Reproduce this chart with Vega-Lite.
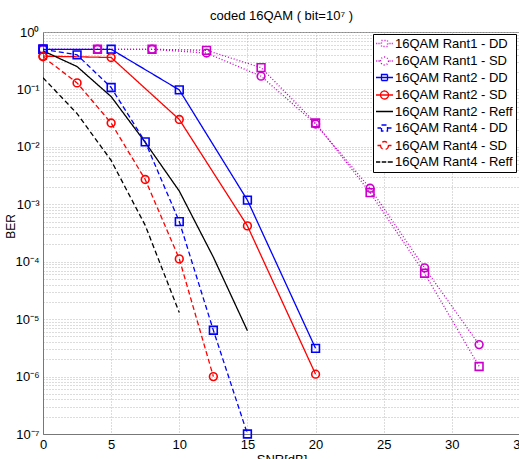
{
  "$schema": "https://vega.github.io/schema/vega-lite/v6.json",
  "width": 477,
  "height": 402,
  "autosize": {"type": "none"},
  "padding": {"left": 43, "top": 32, "right": 0, "bottom": 25},
  "config": {
    "font": "Liberation Sans",
    "view": {"stroke": "#8a8a8a", "strokeWidth": 1},
    "axis": {"labelFont": "Liberation Sans", "titleFont": "Liberation Sans", "labelFontSize": 13, "titleFontSize": 13, "titleFontWeight": "normal", "labelColor": "#000", "titleColor": "#000", "domainColor": "#777", "gridColor": "#b8b8b8", "gridDash": [1, 2], "gridWidth": 1, "ticks": false}
  },
  "title": {"text": "coded 16QAM ( bit=10⁷ )", "fontSize": 13, "fontWeight": "normal", "font": "Liberation Sans", "color": "#000", "anchor": "middle", "offset": 3},
  "data": {"values": [
    {"series": "16QAM Rant1 - DD", "snr": 0, "ber": 0.5},
    {"series": "16QAM Rant1 - DD", "snr": 4, "ber": 0.5},
    {"series": "16QAM Rant1 - DD", "snr": 8, "ber": 0.5},
    {"series": "16QAM Rant1 - DD", "snr": 12, "ber": 0.48},
    {"series": "16QAM Rant1 - DD", "snr": 16, "ber": 0.24},
    {"series": "16QAM Rant1 - DD", "snr": 20, "ber": 0.026},
    {"series": "16QAM Rant1 - DD", "snr": 24, "ber": 0.0016},
    {"series": "16QAM Rant1 - DD", "snr": 28, "ber": 6.3e-5},
    {"series": "16QAM Rant1 - DD", "snr": 32, "ber": 1.5e-6},
    {"series": "16QAM Rant1 - SD", "snr": 0, "ber": 0.5},
    {"series": "16QAM Rant1 - SD", "snr": 4, "ber": 0.5},
    {"series": "16QAM Rant1 - SD", "snr": 8, "ber": 0.5},
    {"series": "16QAM Rant1 - SD", "snr": 12, "ber": 0.43},
    {"series": "16QAM Rant1 - SD", "snr": 16, "ber": 0.17},
    {"series": "16QAM Rant1 - SD", "snr": 20, "ber": 0.025},
    {"series": "16QAM Rant1 - SD", "snr": 24, "ber": 0.0019},
    {"series": "16QAM Rant1 - SD", "snr": 28, "ber": 7.8e-5},
    {"series": "16QAM Rant1 - SD", "snr": 32, "ber": 3.6e-6},
    {"series": "16QAM Rant2 - DD", "snr": 0, "ber": 0.5},
    {"series": "16QAM Rant2 - DD", "snr": 5, "ber": 0.5},
    {"series": "16QAM Rant2 - DD", "snr": 10, "ber": 0.098},
    {"series": "16QAM Rant2 - DD", "snr": 15, "ber": 0.00118},
    {"series": "16QAM Rant2 - DD", "snr": 20, "ber": 3.1e-6},
    {"series": "16QAM Rant2 - SD", "snr": 0, "ber": 0.38},
    {"series": "16QAM Rant2 - SD", "snr": 5, "ber": 0.36},
    {"series": "16QAM Rant2 - SD", "snr": 10, "ber": 0.03},
    {"series": "16QAM Rant2 - SD", "snr": 15, "ber": 0.00042},
    {"series": "16QAM Rant2 - SD", "snr": 20, "ber": 1.1e-6},
    {"series": "16QAM Rant2 - Reff", "snr": 0, "ber": 0.47},
    {"series": "16QAM Rant2 - Reff", "snr": 2.5, "ber": 0.25},
    {"series": "16QAM Rant2 - Reff", "snr": 5, "ber": 0.075},
    {"series": "16QAM Rant2 - Reff", "snr": 7.5, "ber": 0.012},
    {"series": "16QAM Rant2 - Reff", "snr": 10, "ber": 0.0017},
    {"series": "16QAM Rant2 - Reff", "snr": 12.5, "ber": 0.00012},
    {"series": "16QAM Rant2 - Reff", "snr": 15, "ber": 6.3e-6},
    {"series": "16QAM Rant4 - DD", "snr": 0, "ber": 0.5},
    {"series": "16QAM Rant4 - DD", "snr": 2.5, "ber": 0.4},
    {"series": "16QAM Rant4 - DD", "snr": 5, "ber": 0.108},
    {"series": "16QAM Rant4 - DD", "snr": 7.5, "ber": 0.0122},
    {"series": "16QAM Rant4 - DD", "snr": 10, "ber": 0.0005},
    {"series": "16QAM Rant4 - DD", "snr": 12.5, "ber": 6.4e-6},
    {"series": "16QAM Rant4 - DD", "snr": 15, "ber": 1e-7},
    {"series": "16QAM Rant4 - SD", "snr": 0, "ber": 0.37},
    {"series": "16QAM Rant4 - SD", "snr": 2.5, "ber": 0.13},
    {"series": "16QAM Rant4 - SD", "snr": 5, "ber": 0.026},
    {"series": "16QAM Rant4 - SD", "snr": 7.5, "ber": 0.0027},
    {"series": "16QAM Rant4 - SD", "snr": 10, "ber": 0.000112},
    {"series": "16QAM Rant4 - SD", "snr": 12.5, "ber": 1e-6},
    {"series": "16QAM Rant4 - Reff", "snr": 0, "ber": 0.16},
    {"series": "16QAM Rant4 - Reff", "snr": 2.5, "ber": 0.038},
    {"series": "16QAM Rant4 - Reff", "snr": 5, "ber": 0.0058},
    {"series": "16QAM Rant4 - Reff", "snr": 7.5, "ber": 0.00043},
    {"series": "16QAM Rant4 - Reff", "snr": 10, "ber": 1.3e-5}
  ]},
  "encoding": {
    "x": {"field": "snr", "type": "quantitative", "scale": {"domain": [0, 35], "nice": false},
      "axis": {"values": [0, 5, 10, 15, 20, 25, 30, 35], "grid": true, "title": "SNR[dB]", "labelPadding": 4, "titlePadding": 2, "labelFlush": false}},
    "y": {"field": "ber", "type": "quantitative", "scale": {"type": "log", "domain": [1e-7, 1], "nice": false},
      "axis": {"values": [1e-7, 2e-7, 3e-7, 4e-7, 5e-7, 6e-7, 7e-7, 8e-7, 9e-7, 1e-6, 2e-6, 3e-6, 4e-6, 5e-6, 6e-6, 7e-6, 8e-6, 9e-6, 1e-5, 2e-5, 3e-5, 4e-5, 5e-5, 6e-5, 7e-5, 8e-5, 9e-5, 1e-4, 2e-4, 3e-4, 4e-4, 5e-4, 6e-4, 7e-4, 8e-4, 9e-4, 0.001, 0.002, 0.003, 0.004, 0.005, 0.006, 0.007, 0.008, 0.009, 0.01, 0.02, 0.03, 0.04, 0.05, 0.06, 0.07, 0.08, 0.09, 0.1, 0.2, 0.3, 0.4, 0.5, 0.6, 0.7, 0.8, 0.9, 1],
        "grid": true, "title": "BER", "titleFontSize": 12, "titleX": -33, "titleY": 194, "titleBaseline": "middle", "labelPadding": 4, "labelOverlap": false, "labelFlush": false,
        "labelExpr": "abs(log(datum.value)/LN10 - round(log(datum.value)/LN10)) < 0.000001 ? '10' + ['⁰','⁻¹','⁻²','⁻³','⁻⁴','⁻⁵','⁻⁶','⁻⁷'][round(-log(datum.value)/LN10)] : ''"}}
  },
  "layer": [
    {
      "mark": {"type": "line", "clip": true},
      "encoding": {
        "color": {"field": "series", "type": "nominal",
          "scale": {"domain": ["16QAM Rant1 - DD", "16QAM Rant1 - SD", "16QAM Rant2 - DD", "16QAM Rant2 - SD", "16QAM Rant2 - Reff", "16QAM Rant4 - DD", "16QAM Rant4 - SD", "16QAM Rant4 - Reff"],
                    "range": ["#cc00cc", "#cc00cc", "#0000ff", "#ff0000", "#000000", "#0000ff", "#ff0000", "#000000"]},
          "legend": {"title": null, "orient": "none", "legendX": 330, "legendY": 2, "fillColor": "#ffffff", "strokeColor": "#000000", "padding": 3, "rowPadding": 2.5, "symbolSize": 100, "labelOffset": 6, "labelFont": "Liberation Sans", "labelFontSize": 13, "labelColor": "#000", "labelLimit": 300,
            "encode": {"symbols": {"update": {
              "shape": {"signal": "datum.value == '16QAM Rant1 - DD' ? 'M-1.3,0H-1.15M-0.95,0H-0.8M-0.6,0H-0.45M1.25,0H1.4M1.6,0H1.75M1.95,0H2.1M-0.2,-0.6H1.0V0.6H-0.2Z' : datum.value == '16QAM Rant1 - SD' ? 'M-1.3,0H-1.15M-0.95,0H-0.8M-0.65,0H-0.5M1.3,0H1.4M1.6,0H1.75M1.95,0H2.1M1.2,0A0.8,0.8,0,1,1,-0.4,0A0.8,0.8,0,1,1,1.2,0Z' : datum.value == '16QAM Rant2 - DD' ? 'M-1.3,0H2.1M-0.2,-0.6H1.0V0.6H-0.2Z' : datum.value == '16QAM Rant2 - SD' ? 'M-1.3,0H2.1M1.2,0A0.8,0.8,0,1,1,-0.4,0A0.8,0.8,0,1,1,1.2,0Z' : datum.value == '16QAM Rant2 - Reff' ? 'M-1.3,0H2.1' : datum.value == '16QAM Rant4 - DD' ? 'M-1.0,0H-0.3M1.1,0H1.8M-0.2,-0.6H1.0V0.6H-0.2Z' : datum.value == '16QAM Rant4 - SD' ? 'M-1.0,0H-0.4M1.2,0H1.8M1.2,0A0.8,0.8,0,1,1,-0.4,0A0.8,0.8,0,1,1,1.2,0Z' : 'M-1.3,0H-0.45M-0.15,0H0.75M1.05,0H2.1'"},
              "fill": {"value": "transparent"},
              "strokeWidth": {"value": 1.5},
              "strokeDash": {"value": []},
              "opacity": {"value": 1}
            }}}}},
        "strokeDash": {"field": "series", "type": "nominal", "legend": null,
          "scale": {"domain": ["16QAM Rant1 - DD", "16QAM Rant1 - SD", "16QAM Rant2 - DD", "16QAM Rant2 - SD", "16QAM Rant2 - Reff", "16QAM Rant4 - DD", "16QAM Rant4 - SD", "16QAM Rant4 - Reff"],
                    "range": [[1, 2], [1, 2], [1, 0], [1, 0], [1, 0], [5, 3], [5, 3], [5, 3]]}},
        "strokeWidth": {"field": "series", "type": "nominal", "legend": null,
          "scale": {"domain": ["16QAM Rant1 - DD", "16QAM Rant1 - SD", "16QAM Rant2 - DD", "16QAM Rant2 - SD", "16QAM Rant2 - Reff", "16QAM Rant4 - DD", "16QAM Rant4 - SD", "16QAM Rant4 - Reff"],
                    "range": [1.3, 1.3, 2, 2, 1.8, 2, 2, 1.8]}}
      }
    },
    {
      "transform": [{"filter": "indexof(datum.series, 'Reff') < 0"}],
      "mark": {"type": "point", "filled": false, "strokeWidth": 1.6, "opacity": 1, "clip": false},
      "encoding": {
        "color": {"field": "series", "type": "nominal"},
        "shape": {"field": "series", "type": "nominal", "legend": null,
          "scale": {"domain": ["16QAM Rant1 - DD", "16QAM Rant1 - SD", "16QAM Rant2 - DD", "16QAM Rant2 - SD", "16QAM Rant4 - DD", "16QAM Rant4 - SD"],
                    "range": ["square", "circle", "square", "circle", "square", "circle"]}},
        "size": {"value": 60}
      }
    }
  ]
}
